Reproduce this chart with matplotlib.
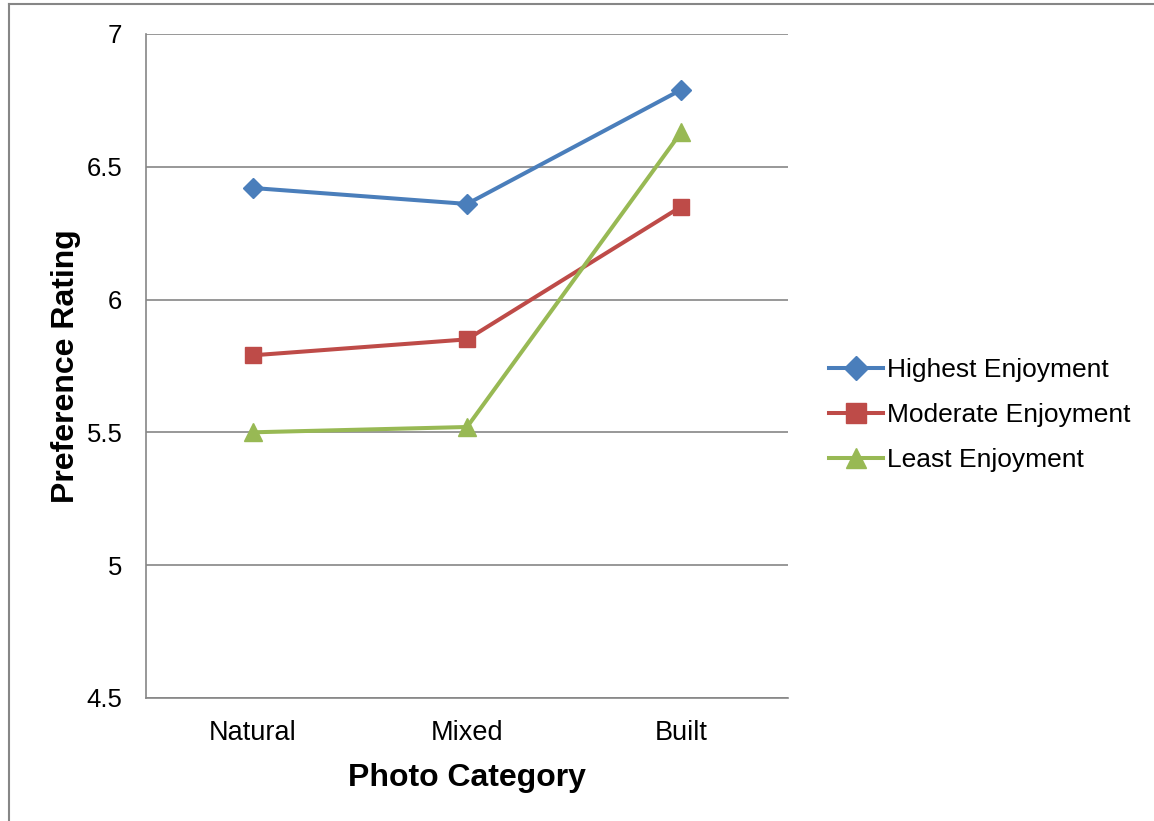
import matplotlib

matplotlib.use("Agg")
import matplotlib.pyplot as plt
from matplotlib.lines import Line2D

plt.rcParams["font.family"] = ["Liberation Sans", "DejaVu Sans"]

categories = ["Natural", "Mixed", "Built"]
highest = [6.42, 6.36, 6.79]
moderate = [5.79, 5.85, 6.35]
least = [5.50, 5.52, 6.63]
y_ticks = [4.5, 5, 5.5, 6, 6.5, 7]

series = [
    ("Highest Enjoyment", highest, "#4A7EBB", "D", 10.5),
    ("Moderate Enjoyment", moderate, "#BE4B48", "s", 12),
    ("Least Enjoyment", least, "#98B954", "^", 13),
]

fig = plt.figure(figsize=(11.54, 8.21), dpi=100)
ax = fig.add_axes([0.1265, 0.150, 0.5565, 0.8086])

x = list(range(len(categories)))
for label, vals, color, marker, ms in series:
    ax.plot(x, vals, color=color, lw=2.9, marker=marker, ms=ms,
            markeredgecolor=color, label=label, zorder=3)

ax.set_xlim(-0.5, len(categories) - 0.5)
ax.set_ylim(4.5, 7)
ax.set_yticks(y_ticks)
ax.set_yticklabels([f"{v:g}" for v in y_ticks])
ax.set_xticks(x)
ax.set_xticklabels(categories)
ax.tick_params(axis="y", length=0, labelsize=18.5, pad=17)
ax.tick_params(axis="x", length=0, labelsize=19.5, pad=16)
ax.yaxis.grid(True, color="#868686", lw=1.2)
ax.set_axisbelow(True)
for side in ("top", "right"):
    ax.spines[side].set_visible(False)
for side in ("left", "bottom"):
    ax.spines[side].set_color("#868686")
    ax.spines[side].set_linewidth(1.2)

ax.set_xlabel("Photo Category", fontsize=23, fontweight="bold", labelpad=12)
ax.set_ylabel("Preference Rating", fontsize=23, fontweight="bold", labelpad=4)

ax.legend(loc="center left", bbox_to_anchor=(1.064, 0.426), frameon=False,
          fontsize=19, handlelength=2.05, handletextpad=0.15, labelspacing=0.8,
          borderpad=0, borderaxespad=0, markerscale=1.15)

# outer chart frame (left and top edges)
frame_x = 8.5 / 1154
frame_y = 1 - 4.5 / 821
fig.add_artist(Line2D([frame_x, frame_x], [0, frame_y], transform=fig.transFigure,
                      color="#868686", lw=1.5))
fig.add_artist(Line2D([frame_x, 1], [frame_y, frame_y], transform=fig.transFigure,
                      color="#868686", lw=1.5))

fig.savefig("out.png", dpi=100)
